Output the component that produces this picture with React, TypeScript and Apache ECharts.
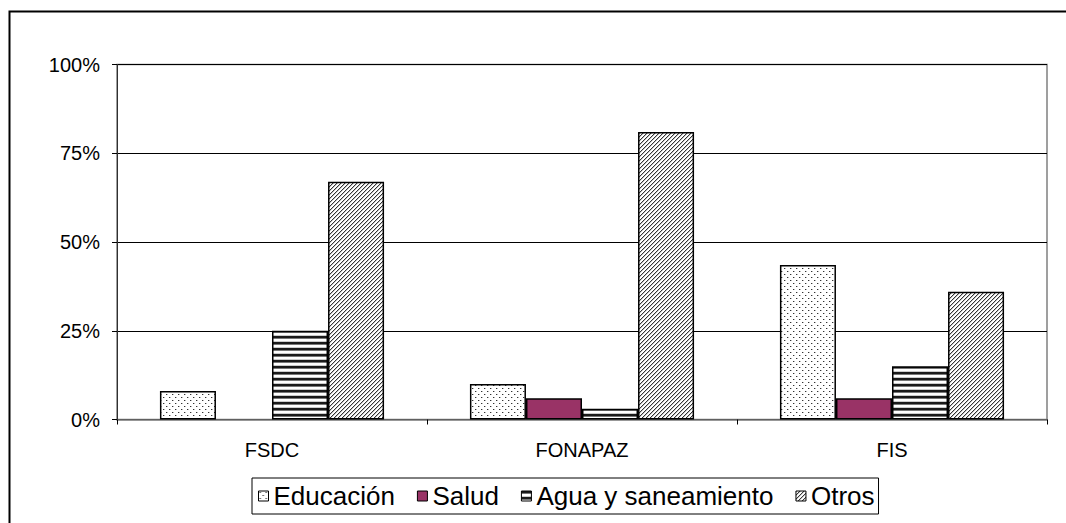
import React, { useEffect, useRef } from 'react';
import * as echarts from 'echarts';

const categories = ['FSDC', 'FONAPAZ', 'FIS'];
const seriesNames = ['Educación', 'Salud', 'Agua y saneamiento', 'Otros'];
const educacion = [8, 10, 43.5];
const salud = [0, 6, 6];
const agua = [25, 3, 15];
const otros = [67, 81, 36];
const yMin = 0;
const yMax = 100;
const yStep = 25;

const FONT = "'Liberation Sans', Arial, sans-serif";

function makeTile(w: number, h: number, draw: (ctx: CanvasRenderingContext2D) => void) {
  const c = document.createElement('canvas');
  c.width = w;
  c.height = h;
  const ctx = c.getContext('2d') as CanvasRenderingContext2D;
  ctx.fillStyle = '#ffffff';
  ctx.fillRect(0, 0, w, h);
  draw(ctx);
  return { image: c, repeat: 'repeat', imageWidth: w, imageHeight: h } as any;
}

function dotsPattern() {
  return makeTile(6, 6, (ctx) => {
    ctx.fillStyle = '#333333';
    ctx.fillRect(1, 1, 1, 1);
    ctx.fillRect(4, 4, 1, 1);
    ctx.fillStyle = '#bbbbbb';
    ctx.fillRect(2, 1, 1, 1);
    ctx.fillRect(5, 4, 1, 1);
  });
}

function stripesPattern() {
  return makeTile(6, 6, (ctx) => {
    ctx.fillStyle = '#1a1a1a';
    ctx.fillRect(0, 0, 6, 2);
    ctx.fillStyle = '#777777';
    ctx.fillRect(0, 2, 6, 1);
    ctx.fillStyle = '#cccccc';
    ctx.fillRect(0, 5, 6, 1);
  });
}

function diagPattern() {
  return makeTile(4, 4, (ctx) => {
    for (let x = 0; x < 4; x++) {
      const y = 3 - x;
      ctx.fillStyle = '#333333';
      ctx.fillRect(x, y, 1, 1);
      ctx.fillStyle = '#c4c4c4';
      ctx.fillRect((x + 1) % 4, y, 1, 1);
    }
  });
}

export default function App() {
  const ref = useRef<HTMLDivElement>(null);

  useEffect(() => {
    if (!ref.current) return;
    const chart = echarts.init(ref.current, null, { renderer: 'svg' });
    const fills = [dotsPattern(), '#993366', stripesPattern(), diagPattern()];
    const values = [educacion, salud, agua, otros];

    const series = seriesNames.map((name, i) => ({
      name,
      type: 'bar',
      data: values[i].map((v) => (v === 0 ? null : v)),
      barGap: '0%',
      barCategoryGap: '27.7%',
      itemStyle: {
        color: fills[i],
        borderColor: '#000000',
        borderWidth: 1.5,
      },
      emphasis: { disabled: true },
    }));

    chart.setOption({
      animation: false,
      backgroundColor: '#ffffff',
      textStyle: { fontFamily: FONT },
      graphic: [
        {
          type: 'rect',
          shape: { x: 9.5, y: 11.5, width: 1200, height: 700 },
          style: { fill: 'none', stroke: '#000000', lineWidth: 2 },
          silent: true,
          z: 100,
        },
      ],
      grid: {
        left: 117,
        right: 19,
        top: 64.5,
        bottom: 103.5,
        show: true,
        borderColor: '#808080',
        borderWidth: 1.5,
        backgroundColor: 'transparent',
      },
      legend: {
        left: 252,
        top: 478,
        orient: 'horizontal',
        itemWidth: 10,
        itemHeight: 10,
        itemGap: 22,
        padding: [5, 4, 5, 6],
        borderColor: '#000000',
        borderWidth: 1,
        backgroundColor: '#ffffff',
        textStyle: { fontSize: 26, color: '#000000', fontFamily: FONT },
        icon: 'rect',
        itemStyle: { borderColor: '#000000', borderWidth: 1 },
        data: seriesNames,
        selectedMode: false,
      },
      xAxis: {
        type: 'category',
        data: categories,
        axisLine: { show: true, lineStyle: { color: '#808080', width: 1.5 } },
        axisTick: { show: true, length: 5, alignWithLabel: false, lineStyle: { color: '#000000' } },
        axisLabel: { fontSize: 20, color: '#000000', margin: 20, fontFamily: FONT },
        splitLine: { show: false },
      },
      yAxis: {
        type: 'value',
        min: yMin,
        max: yMax,
        interval: yStep,
        axisLine: { show: true, lineStyle: { color: '#303030', width: 1 } },
        axisTick: { show: true, length: 5, lineStyle: { color: '#000000' } },
        axisLabel: { fontSize: 20, color: '#000000', margin: 17, formatter: '{value}%', fontFamily: FONT },
        splitLine: { show: true, lineStyle: { color: '#000000', width: 1 } },
      },
      series,
    });

    return () => {
      chart.dispose();
    };
  }, []);

  return (
    <div
      ref={ref}
      style={{ position: 'absolute', left: 0, top: 0, width: 1066, height: 523 }}
    />
  );
}
